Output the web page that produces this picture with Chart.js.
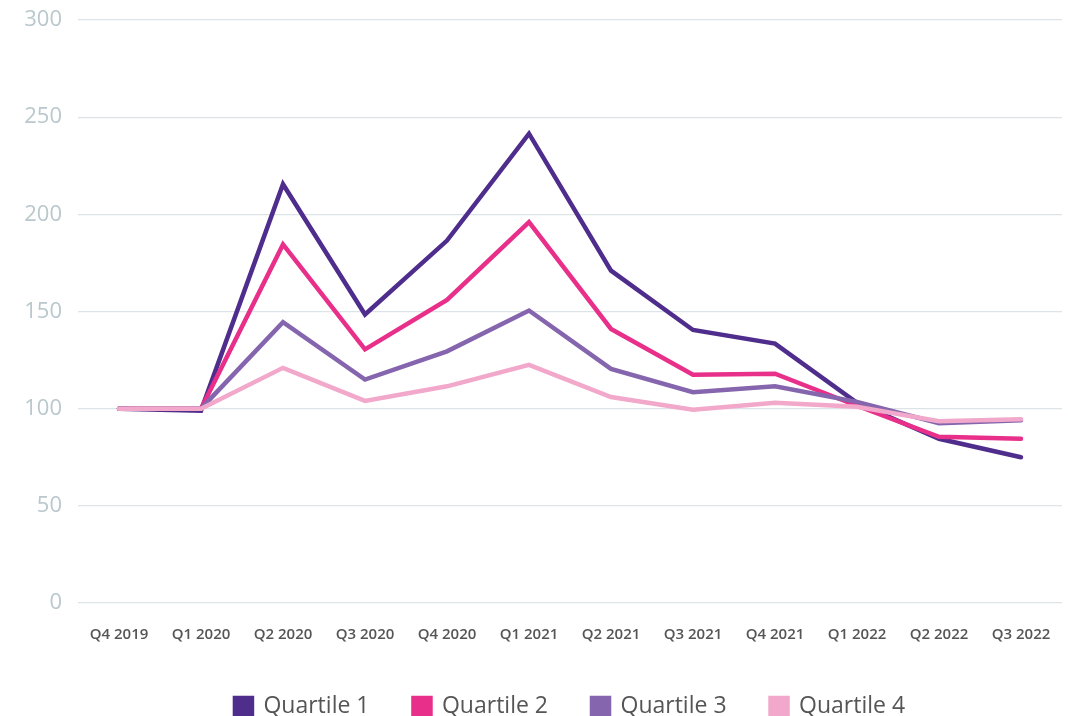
<!DOCTYPE html>
<html>
<head>
<meta charset="utf-8">
<script src="https://cdn.jsdelivr.net/npm/chart.js@4"></script>
<style>
  html, body { margin:0; padding:0; background:#fff; }
  #wrap { width:1068px; height:716px; }
</style>
</head>
<body>
<div id="wrap"><canvas id="chart"></canvas></div>
<script>
const quarters = ['Q4 2019','Q1 2020','Q2 2020','Q3 2020','Q4 2020','Q1 2021','Q2 2021','Q3 2021','Q4 2021','Q1 2022','Q2 2022','Q3 2022'];
const quartile1 = [100, 99, 215.5, 148.5, 186.5, 241.5, 171, 140.5, 133.5, 103, 84.5, 75];
const quartile2 = [100, 100, 184.5, 130.5, 156, 196, 141, 117.5, 118, 101.5, 85.5, 84.5];
const quartile3 = [100, 100, 144.5, 115, 129.5, 150.5, 120.5, 108.5, 111.5, 103.5, 92.5, 94];
const quartile4 = [100, 100, 121, 104, 111.5, 122.5, 106, 99.5, 103, 101, 93.5, 94.5];
const yTicks = [0, 50, 100, 150, 200, 250, 300];

const series = [
    { label:'Quartile 1', data:quartile1, color:'#4f2d8c' },
    { label:'Quartile 2', data:quartile2, color:'#e8308a' },
    { label:'Quartile 3', data:quartile3, color:'#8565ad' },
    { label:'Quartile 4', data:quartile4, color:'#f2a8ca' }
];

new Chart(document.getElementById('chart'), {
    type: 'line',
    data: {
        labels: quarters,
        datasets: series.slice().reverse().map(s => ({
            label: s.label,
            data: s.data,
            borderColor: s.color,
            backgroundColor: s.color,
            borderWidth: 4.5,
            borderCapStyle: 'round',
            borderJoinStyle: 'miter',
            pointRadius: 0,
            tension: 0,
            fill: false
        }))
    },
    options: {
        responsive: true,
        maintainAspectRatio: false,
        animation: false,
        layout: { padding: { top: 20, right: 6, left: 0, bottom: -12 } },
        plugins: {
            legend: {
                position: 'bottom',
                fullSize: false,
                reverse: true,
                labels: {
                    boxWidth: 17,
                    boxHeight: 17,
                    padding: 44,
                    color: '#555',
                    font: { family: 'Open Sans', size: 23 }
                }
            },
            tooltip: { enabled: false }
        },
        scales: {
            x: {
                offset: true,
                grid: { display: false },
                border: { display: false },
                afterFit: axis => { axis.height = 48; },
                ticks: {
                    color: '#555',
                    padding: 15,
                    maxRotation: 0,
                    font: { family: 'Open Sans', size: 15, weight: '600' }
                }
            },
            y: {
                min: 0,
                max: 300,
                afterBuildTicks: axis => { axis.ticks = yTicks.map(v => ({ value: v })); },
                afterFit: axis => { axis.width = 78; axis.paddingTop = 0; axis.paddingBottom = 0; },
                grid: { color: '#dde4e7', lineWidth: 1.2, drawTicks: false },
                border: { display: false },
                ticks: {
                    color: '#b9c8cc',
                    padding: 16,
                    font: { family: 'Open Sans', size: 22 }
                }
            }
        }
    }
});
</script>
</body>
</html>
